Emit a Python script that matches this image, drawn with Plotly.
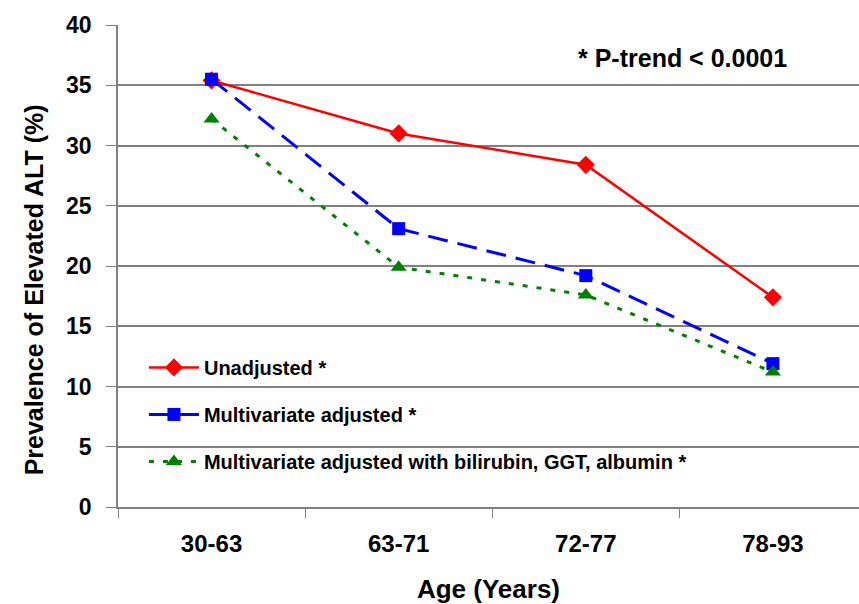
import plotly.graph_objects as go

categories = ["30-63", "63-71", "72-77", "78-93"]
unadjusted = [35.4, 31.0, 28.4, 17.4]
multivariate = [35.5, 23.1, 19.2, 11.9]
multivariate_bga = [32.2, 19.9, 17.6, 11.2]
series_names = [
    "Unadjusted *",
    "Multivariate adjusted *",
    "Multivariate adjusted with bilirubin, GGT, albumin *",
]
y_ticks = [0, 5, 10, 15, 20, 25, 30, 35, 40]

FONT = "Liberation Sans, Arial, sans-serif"

fig = go.Figure()
fig.add_trace(go.Scatter(
    x=categories, y=unadjusted, name=series_names[0], mode="lines+markers",
    line=dict(color="#FF0000", width=2.5),
    marker=dict(symbol="diamond", size=14, color="#FF0000"),
    legendgroup="a",
))
fig.add_trace(go.Scatter(
    x=categories, y=multivariate, name=series_names[1], mode="lines+markers",
    line=dict(color="#0000FF", width=3, dash="20px,10px"),
    marker=dict(symbol="square", size=13, color="#0000FF"),
    legendgroup="b",
))
fig.add_trace(go.Scatter(
    x=categories, y=multivariate_bga, name=series_names[2], mode="lines+markers",
    line=dict(color="#008000", width=3, dash="5px,9px"),
    marker=dict(symbol="triangle-up", size=14, color="#008000"),
    legendgroup="c",
))

# white panel behind the legend hiding gridlines
fig.add_shape(type="rect", xref="paper", yref="paper", x0=0.003, x1=0.86, y0=0.055, y1=0.34,
              fillcolor="white", line=dict(width=0), layer="between")

fig.add_annotation(x=0.906, y=0.932, xref="paper", yref="paper", text="* P-trend &lt; 0.0001",
                   showarrow=False, font=dict(family=FONT, size=25, color="black", weight="bold"),
                   xanchor="right", yanchor="middle")

# y-axis title (placed as annotation to match its offset position)
fig.add_annotation(x=-0.113, y=0.45, xref="paper", yref="paper",
                   text="Prevalence of Elevated ALT (%)", textangle=-90, showarrow=False,
                   font=dict(family=FONT, size=25, color="black", weight="bold"),
                   xanchor="center", yanchor="middle")

fig.update_layout(
    width=859, height=604,
    margin=dict(l=118, r=0, t=25, b=97),
    paper_bgcolor="white", plot_bgcolor="white",
    font=dict(family=FONT, color="black"),
    showlegend=True,
    legend=dict(
        x=0.035, y=0.33, xanchor="left", yanchor="top",
        bgcolor="rgba(0,0,0,0)", font=dict(family=FONT, size=20, color="black", weight="bold"),
        tracegroupgap=18, itemwidth=50,
    ),
    xaxis=dict(
        range=[-0.5, 3.46], showgrid=False, showline=True, linecolor="#808080", linewidth=1.5,
        ticks="outside", ticklen=9, tickcolor="#808080", tickson="boundaries",
        tickfont=dict(family=FONT, size=24, color="black", weight="bold"),
        ticklabelstandoff=14,
        title=dict(text="Age (Years)", font=dict(family=FONT, size=26, weight="bold"), standoff=24),
    ),
    yaxis=dict(
        range=[0, 40], tickvals=y_ticks, showgrid=True, gridcolor="#808080", gridwidth=1.5,
        showline=True, linecolor="#808080", linewidth=1.5, zeroline=False,
        ticks="outside", ticklen=10, tickcolor="#808080",
        tickfont=dict(family=FONT, size=23, color="black", weight="bold"),
        ticklabelstandoff=10,
    ),
)

fig.write_html("out.html")
